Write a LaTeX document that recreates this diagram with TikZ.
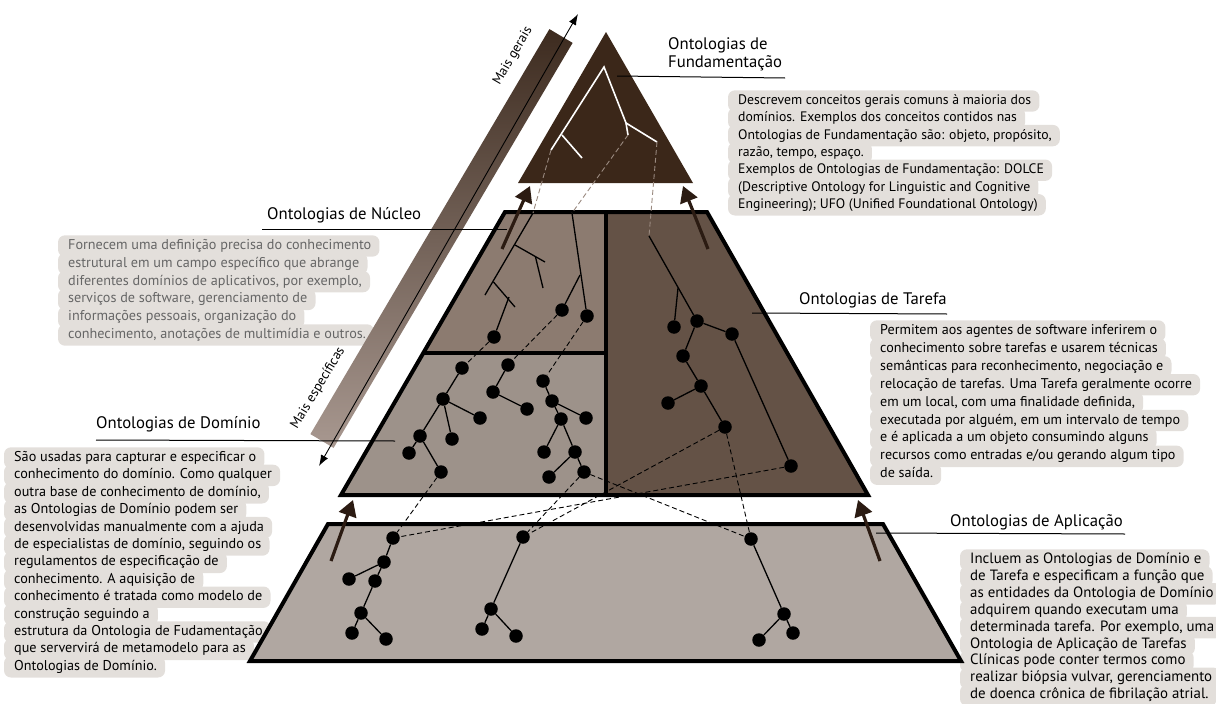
\documentclass[tikz,border=0pt]{standalone}
\usepackage{fontspec}
\setmainfont{PT Sans}
\usetikzlibrary{arrows.meta,backgrounds}
\definecolor{fundc}{HTML}{3B2719}
\definecolor{corec}{HTML}{8C7B70}
\definecolor{domc}{HTML}{9D928A}
\definecolor{taskc}{HTML}{645246}
\definecolor{appc}{HTML}{B0A7A1}
\definecolor{blobc}{HTML}{E3DFDB}
\definecolor{arrowc}{HTML}{2B1B12}
\definecolor{linkgrey}{HTML}{9A8A80}
\definecolor{bandlight}{HTML}{A89890}
\definecolor{banddark}{HTML}{3D2B1F}
\definecolor{greytext}{HTML}{666666}

% one paragraph: #1 name, #2 x, #3 first line, #4 line pitch, #5 font size, #6 colour, #7 lines;
% each line gets its own brush stroke on the background layer
\newcommand{\textblock}[7]{%
  \foreach \blk [count=\i] in {#7} {%
    \node[body,font=\fontsize{#5}{#5}\selectfont,text=#6] (#1-\i) at (#2,{#3+(\i-1)*#4}) {\blk};
    \begin{pgfonlayer}{background}
      \fill[blobc,rounded corners=7pt]
        ([xshift=-10pt,yshift=3.5pt]#1-\i.north west) rectangle ([xshift=8pt,yshift=-3.5pt]#1-\i.south east);
    \end{pgfonlayer}
  }%
}

\begin{document}
\begin{tikzpicture}[x=1pt,y=-1pt,
  dot/.style={circle,fill=black,inner sep=0pt,minimum size=13.5pt},
  edge/.style={line width=1.3pt},
  wedge/.style={white,line width=1.6pt},
  link/.style={dash pattern=on 5pt off 3pt,line width=0.9pt},
  faintlink/.style={link,draw=linkgrey},
  liftarrow/.style={draw=arrowc,line width=3.2pt,-{Triangle[length=16pt,width=18pt]}},
  leader/.style={line width=1pt},
  title/.style={anchor=west,font=\fontsize{16.7}{19}\selectfont,inner sep=0pt},
  body/.style={anchor=west,inner sep=0pt,text height=10.5pt,text depth=3.5pt}
]
\useasboundingbox (0,0) rectangle (1216,704);

% ---------- generality band ----------
\shade[top color=banddark,bottom color=bandlight]
  (549.4,29.1) -- (572.6,42.9) -- (333.6,447.9) -- (310.4,434.1) -- cycle;
\coordinate (spec) at (319,466);
\coordinate (gen) at (578,14);
\draw[line width=0.9pt,{Latex[length=11pt,width=8pt]}-{Latex[length=11pt,width=8pt]}] (spec) -- (gen);
\node[rotate=60,font=\fontsize{13.5}{15}\selectfont] (maisgerais) at (513,56) {Mais gerais};
\node[rotate=59,font=\fontsize{13.5}{15}\selectfont] (maisesp) at (318,388) {Mais específicas};

% ---------- pyramid layers ----------
\fill[appc] (328,524) -- (883,524) -- (961,661) -- (250,661) -- cycle;
\draw[line width=4pt] (328,524) -- (883,524) -- (961,661) -- (250,661) -- cycle;

\fill[corec] (505,212) -- (606,212) -- (606,353) -- (423.3,353) -- cycle;
\fill[domc] (423.3,353) -- (606,353) -- (606,495) -- (341,495) -- cycle;
\fill[taskc] (606,212) -- (707,212) -- (868,495) -- (606,495) -- cycle;
\draw[line width=4pt] (505,212) -- (707,212) -- (868,495) -- (341,495) -- cycle;
\draw[line width=4pt] (606,212) -- (606,495);
\draw[line width=3.5pt] (423.3,353) -- (606,353);

\fill[fundc] (606,32) -- (693,183) -- (518,183) -- cycle;

% ---------- foundational tree (white) ----------
\coordinate (f0) at (604,67);
\coordinate (fl) at (551,150);
\coordinate (fj1) at (562,135);
\coordinate (fl2) at (582,158);
\coordinate (fj2) at (626,123);
\coordinate (fm) at (628,135);
\coordinate (fr) at (657,142);
\draw[wedge] (fl) -- (f0) -- (fj2) -- (fm);
\draw[wedge] (fj1) -- (fl2);
\draw[wedge] (fj2) -- (fr);

% ---------- core trees ----------
\coordinate (k1) at (533,213);
\coordinate (k1e) at (485,295);
\coordinate (k1a) at (515,245);
\coordinate (k1b) at (545,262);
\coordinate (k1c) at (535.5,257);
\coordinate (k1d) at (543,288);
\coordinate (k1f) at (493.5,282);
\coordinate (k1g) at (515,307);
\coordinate (k1h) at (509,297);
\node[dot] (kd1) at (494,337) {};
\draw[edge] (k1) -- (k1e);
\draw[edge] (k1a) -- (k1b);
\draw[edge] (k1c) -- (k1d);
\draw[edge] (k1f) -- (k1g);
\draw[edge] (k1h) -- (kd1);

\coordinate (k2) at (572,213);
\coordinate (k2j) at (580,275);
\node[dot] (kd2) at (562,310) {};
\node[dot] (kd3) at (587,316) {};
\draw[edge] (k2) -- (kd3);
\draw[edge] (k2j) -- (kd2);

% ---------- task tree ----------
\coordinate (t0) at (649,236);
\coordinate (tj) at (678,288);
\node[dot] (t1) at (674,327) {};
\node[dot] (t2) at (697,321) {};
\node[dot] (t3) at (732,334) {};
\node[dot] (t4) at (683,356) {};
\node[dot] (t5) at (701,386) {};
\node[dot] (t7) at (668,403) {};
\node[dot] (t6) at (725,427) {};
\node[dot] (t9) at (791,466) {};
\draw[edge] (t0) -- (t2);
\draw[edge] (tj) -- (t1);
\draw[edge] (t2) -- (t3) -- (t9);
\draw[edge] (t2) -- (t4) -- (t5) -- (t6);
\draw[edge] (t5) -- (t7);

% ---------- domain trees ----------
\node[dot] (a1) at (462,368) {};
\node[dot] (a2) at (443,399) {};
\node[dot] (a3) at (480,418) {};
\node[dot] (a4) at (452,439) {};
\node[dot] (a5) at (420,436) {};
\node[dot] (a6) at (409,453) {};
\node[dot] (a7) at (441,472) {};
\draw[edge] (a1) -- (a2) -- (a3);
\draw[edge] (a2) -- (a4);
\draw[edge] (a2) -- (a5) -- (a6);
\draw[edge] (a5) -- (a7);

\node[dot] (b1) at (508,365) {};
\node[dot] (b2) at (493,392) {};
\node[dot] (b3) at (527,409) {};
\draw[edge] (b1) -- (b2) -- (b3);

\node[dot] (c1) at (543,381) {};
\node[dot] (c2) at (552,401) {};
\node[dot] (c3) at (586,418) {};
\node[dot] (c4) at (561,419) {};
\node[dot] (c5) at (544,452) {};
\node[dot] (c6) at (575,452) {};
\node[dot] (c7) at (549,477) {};
\node[dot] (c8) at (584,472) {};
\draw[edge] (c1) -- (c2) -- (c3);
\draw[edge] (c2) -- (c4) -- (c5);
\draw[edge] (c4) -- (c6) -- (c7);
\draw[edge] (c6) -- (c8);

% ---------- application trees ----------
\node[dot] (p1) at (393,538) {};
\node[dot] (p2) at (384,562) {};
\node[dot] (p3) at (349,579) {};
\node[dot] (p4) at (375,581) {};
\node[dot] (p5) at (361,613) {};
\node[dot] (p6) at (352,633) {};
\node[dot] (p7) at (386,639) {};
\draw[edge] (p1) -- (p2) -- (p3);
\draw[edge] (p2) -- (p4) -- (p5) -- (p6);
\draw[edge] (p5) -- (p7);

\node[dot] (q1) at (523,537) {};
\node[dot] (q2) at (491,609) {};
\node[dot] (q3) at (482,629) {};
\node[dot] (q4) at (516,636) {};
\draw[edge] (q1) -- (q2) -- (q3);
\draw[edge] (q2) -- (q4);

\node[dot] (r1) at (751,539) {};
\node[dot] (r2) at (784,614) {};
\node[dot] (r3) at (759,640) {};
\node[dot] (r4) at (793,633) {};
\draw[edge] (r1) -- (r2) -- (r3);
\draw[edge] (r2) -- (r4);

% ---------- correspondences between levels ----------
\draw[faintlink] (fl) -- (k1);
\draw[faintlink] (fm) -- (k2);
\draw[faintlink] (fr) -- (t0);
\draw[link] (kd1) -- (a1);
\draw[link] (kd2) -- (b1);
\draw[link] (kd3) -- (c1);
\draw[link] (a7) -- (p1);
\draw[link] (c8) -- (q1);
\draw[link] (c8) -- (r1);
\draw[link] (t6) -- (q1);
\draw[link] (t6) -- (r1);
\draw[link] (t9) -- (p1);

% ---------- lift arrows ----------
\coordinate (ul0) at (502,249); \coordinate (ul1) at (530,186);
\coordinate (ur0) at (708,249); \coordinate (ur1) at (683,186);
\coordinate (ll0) at (331,561); \coordinate (ll1) at (353,500);
\coordinate (lr0) at (880,561); \coordinate (lr1) at (858,500);
\draw[liftarrow] (ul0) -- (ul1);
\draw[liftarrow] (ur0) -- (ur1);
\draw[liftarrow] (ll0) -- (ll1);
\draw[liftarrow] (lr0) -- (lr1);

% ---------- titles and leaders ----------
\node[title] (tfund1) at (668,45) {Ontologias de};
\node[title] (tfund2) at (668,63) {Fundamentação};
\coordinate (lf0) at (617,76); \coordinate (lf1) at (785,78);
\draw[leader] (lf0) -- (lf1);

\node[title] (tnuc) at (267,215) {Ontologias de Núcleo};
\coordinate (ln0) at (262,229); \coordinate (ln1) at (507,229);
\draw[leader] (ln0) -- (ln1);

\node[title] (ttar) at (799,300) {Ontologias de Tarefa};
\coordinate (lt0) at (752,313); \coordinate (lt1) at (947,314);
\draw[leader] (lt0) -- (lt1);

\node[title] (tdom) at (96,424) {Ontologias de Domínio};
\coordinate (ld0) at (96,440); \coordinate (ld1) at (395,441);
\draw[leader] (ld0) -- (ld1);

\node[title] (tapl) at (950,522) {Ontologias de Aplicação};
\coordinate (la0) at (876,533); \coordinate (la1) at (1125,534);
\draw[leader] (la0) -- (la1);

% ---------- descriptions ----------
\textblock{dfund}{738}{101}{17.3}{13.75}{black}{%
  {Descrevem conceitos gerais comuns à maioria dos},
  {domínios. Exemplos dos conceitos contidos nas},
  {Ontologias de Fundamentação são: objeto, propósito,},
  {razão, tempo, espaço.},
  {Exemplos de Ontologias de Fundamentação: DOLCE},
  {(Descriptive Ontology for Linguistic and Cognitive},
  {Engineering); UFO (Unified Foundational Ontology)}}

\textblock{dnuc}{68}{246}{17.8}{14.2}{greytext}{%
  {Fornecem uma definição precisa do conhecimento},
  {estrutural em um campo específico que abrange},
  {diferentes domínios de aplicativos, por exemplo,},
  {serviços de software, gerenciamento de},
  {informações pessoais, organização do},
  {conhecimento, anotações de multimídia e outros.}}

\textblock{dtar}{880}{331}{17.9}{14.1}{black}{%
  {Permitem aos agentes de software inferirem o},
  {conhecimento sobre tarefas e usarem técnicas},
  {semânticas para reconhecimento, negociação e},
  {relocação de tarefas. Uma Tarefa geralmente ocorre},
  {em um local, com uma finalidade definida,},
  {executada por alguém, em um intervalo de tempo},
  {e é aplicada a um objeto consumindo alguns},
  {recursos como entradas e/ou gerando algum tipo},
  {de saída.}}

\textblock{ddom}{14}{458}{17.4}{14.2}{black}{%
  {São usadas para capturar e especificar o},
  {conhecimento do domínio. Como qualquer},
  {outra base de conhecimento de domínio,},
  {as Ontologias de Domínio podem ser},
  {desenvolvidas manualmente com a ajuda},
  {de especialistas de domínio, seguindo os},
  {regulamentos de especificação de},
  {conhecimento. A aquisição de},
  {conhecimento é tratada como modelo de},
  {construção seguindo a},
  {estrutura da Ontologia de Fudamentação},
  {que servervirá de metamodelo para as},
  {Ontologias de Domínio.}}

\textblock{dapl}{970}{560}{16.9}{14.9}{black}{%
  {Incluem as Ontologias de Domínio e},
  {de Tarefa e especificam a função que},
  {as entidades da Ontologia de Domínio},
  {adquirem quando executam uma},
  {determinada tarefa. Por exemplo, uma},
  {Ontologia de Aplicação de Tarefas},
  {Clínicas pode conter termos como},
  {realizar biópsia vulvar, gerenciamento},
  {de doenca crônica de fibrilação atrial.}}
\end{tikzpicture}
\end{document}
